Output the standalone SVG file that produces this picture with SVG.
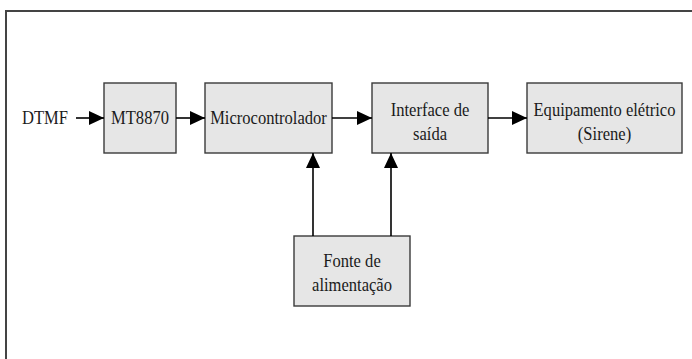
<svg xmlns="http://www.w3.org/2000/svg" width="692" height="359" viewBox="0 0 692 359">
  <style>
    .box { fill: #e6e6e6; stroke: #3a3a3a; stroke-width: 1.4; }
    .lbl { font-family: "Liberation Serif", "Times New Roman", serif; font-size: 18px; fill: #1a1a1a; text-anchor: middle; }
    .wire { stroke: #000; stroke-width: 1.6; fill: none; marker-end: url(#arrow); }
  </style>
  <defs>
    <marker id="arrow" viewBox="0 0 15 14" refX="15" refY="7" markerWidth="15" markerHeight="14" markerUnits="userSpaceOnUse" orient="auto">
      <path d="M0,0 L15,7 L0,14 Z" fill="#000"/>
    </marker>
  </defs>

  <rect width="692" height="359" fill="#fff"/>

  <!-- outer frame (open on the right and bottom) -->
  <path d="M6,359 V11 H692" fill="none" stroke="#444" stroke-width="2"/>

  <!-- labels use a slightly condensed serif: translate to anchor, then narrow horizontally -->
  <text class="lbl" transform="translate(22 124) scale(0.92 1)" style="text-anchor:start">DTMF</text>

  <g id="mt8870">
    <rect class="box" x="104" y="83" width="72" height="70"/>
    <text class="lbl" transform="translate(140 124) scale(0.92 1)">MT8870</text>
  </g>

  <g id="microcontrolador">
    <rect class="box" x="205" y="83" width="127" height="70"/>
    <text class="lbl" transform="translate(268.5 124) scale(0.92 1)">Microcontrolador</text>
  </g>

  <g id="interface">
    <rect class="box" x="372" y="83" width="116" height="70"/>
    <text class="lbl" transform="translate(430 116) scale(0.92 1)">Interface de</text>
    <text class="lbl" transform="translate(430 140) scale(0.92 1)">saída</text>
  </g>

  <g id="equipamento">
    <rect class="box" x="527" y="83" width="155" height="70"/>
    <text class="lbl" transform="translate(604.5 116) scale(0.92 1)">Equipamento elétrico</text>
    <text class="lbl" transform="translate(604.5 140) scale(0.92 1)">(Sirene)</text>
  </g>

  <g id="fonte">
    <rect class="box" x="294" y="236" width="116" height="70"/>
    <text class="lbl" transform="translate(352 267) scale(0.92 1)">Fonte de</text>
    <text class="lbl" transform="translate(352 291) scale(0.92 1)">alimentação</text>
  </g>

  <g id="connectors">
    <line class="wire" x1="76" y1="118" x2="104" y2="118"/>
    <line class="wire" x1="176" y1="118" x2="205" y2="118"/>
    <line class="wire" x1="332" y1="118" x2="372" y2="118"/>
    <line class="wire" x1="488" y1="118" x2="527" y2="118"/>
    <line class="wire" x1="313" y1="236" x2="313" y2="153"/>
    <line class="wire" x1="391" y1="236" x2="391" y2="153"/>
  </g>
</svg>
